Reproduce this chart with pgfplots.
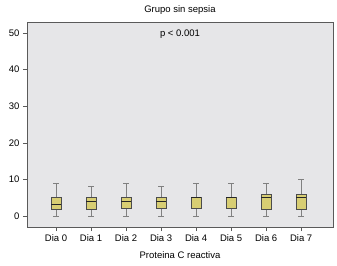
\documentclass[border=0pt]{standalone}
\usepackage{pgfplots}
\pgfplotsset{compat=1.18}
\usepgfplotslibrary{statistics}
\usepackage{fontspec}
\setmainfont{Liberation Sans}
\definecolor{bg}{RGB}{230,230,232}
\definecolor{boxfill}{RGB}{216,206,115}
\definecolor{frame}{RGB}{90,90,90}
\begin{document}
\begin{tikzpicture}
\useasboundingbox (-27pt,-38pt) rectangle (310pt,227pt);
\begin{axis}[
  at={(0pt,0pt)}, anchor=south west,
  scale only axis, width=306pt, height=205pt,
  xmin=-0.83, xmax=7.91, ymin=-3, ymax=53,
  axis background/.style={fill=bg},
  axis line style={frame, line width=0.8pt},
  font=\fontsize{9.5}{11}\selectfont,
  /pgf/number format/assume math mode=true,
  xtick={0,1,2,3,4,5,6,7},
  xticklabels={Dia 0,Dia 1,Dia 2,Dia 3,Dia 4,Dia 5,Dia 6,Dia 7},
  ytick={0,10,20,30,40,50},
  tick align=outside, tick pos=left,
  major tick length=4pt,
  tick style={frame, line width=0.6pt},
  xlabel={Proteina C reactiva},
  xlabel style={yshift=-3pt},
  title={Grupo sin sepsia},
  title style={yshift=-2pt},
  boxplot/draw direction=y,
  boxplot/box extend=0.28,
  boxplot/whisker extend=0.17,
  boxplot/every box/.style={fill=boxfill, draw=black!70, line width=0.7pt},
  boxplot/every whisker/.style={draw=black!50, line width=0.9pt},
  boxplot/every median/.style={draw=black!85, line width=1.4pt},
]
\addplot[mark=none, draw=black!65, boxplot prepared={draw position=0, lower whisker=0, lower quartile=1.75, median=3.1, upper quartile=5, upper whisker=9}] coordinates {};
\addplot[mark=none, draw=black!65, boxplot prepared={draw position=1, lower whisker=0, lower quartile=1.9, median=4, upper quartile=5, upper whisker=8}] coordinates {};
\addplot[mark=none, draw=black!65, boxplot prepared={draw position=2, lower whisker=0, lower quartile=2, median=4, upper quartile=5, upper whisker=9}] coordinates {};
\addplot[mark=none, draw=black!65, boxplot prepared={draw position=3, lower whisker=0, lower quartile=2, median=4, upper quartile=5, upper whisker=8}] coordinates {};
\addplot[mark=none, draw=black!65, boxplot prepared={draw position=4, lower whisker=0, lower quartile=2, median=5, upper quartile=5, upper whisker=9}] coordinates {};
\addplot[mark=none, draw=black!65, boxplot prepared={draw position=5, lower whisker=0, lower quartile=2, median=5, upper quartile=5, upper whisker=9}] coordinates {};
\addplot[mark=none, draw=black!65, boxplot prepared={draw position=6, lower whisker=0, lower quartile=1.9, median=5, upper quartile=6, upper whisker=9}] coordinates {};
\addplot[mark=none, draw=black!65, boxplot prepared={draw position=7, lower whisker=0, lower quartile=1.9, median=5, upper quartile=6, upper whisker=10}] coordinates {};
\node[font=\fontsize{9.5}{11}\selectfont] at (axis cs:3.54,49.7) {p < 0.001};
\end{axis}
\end{tikzpicture}
\end{document}
